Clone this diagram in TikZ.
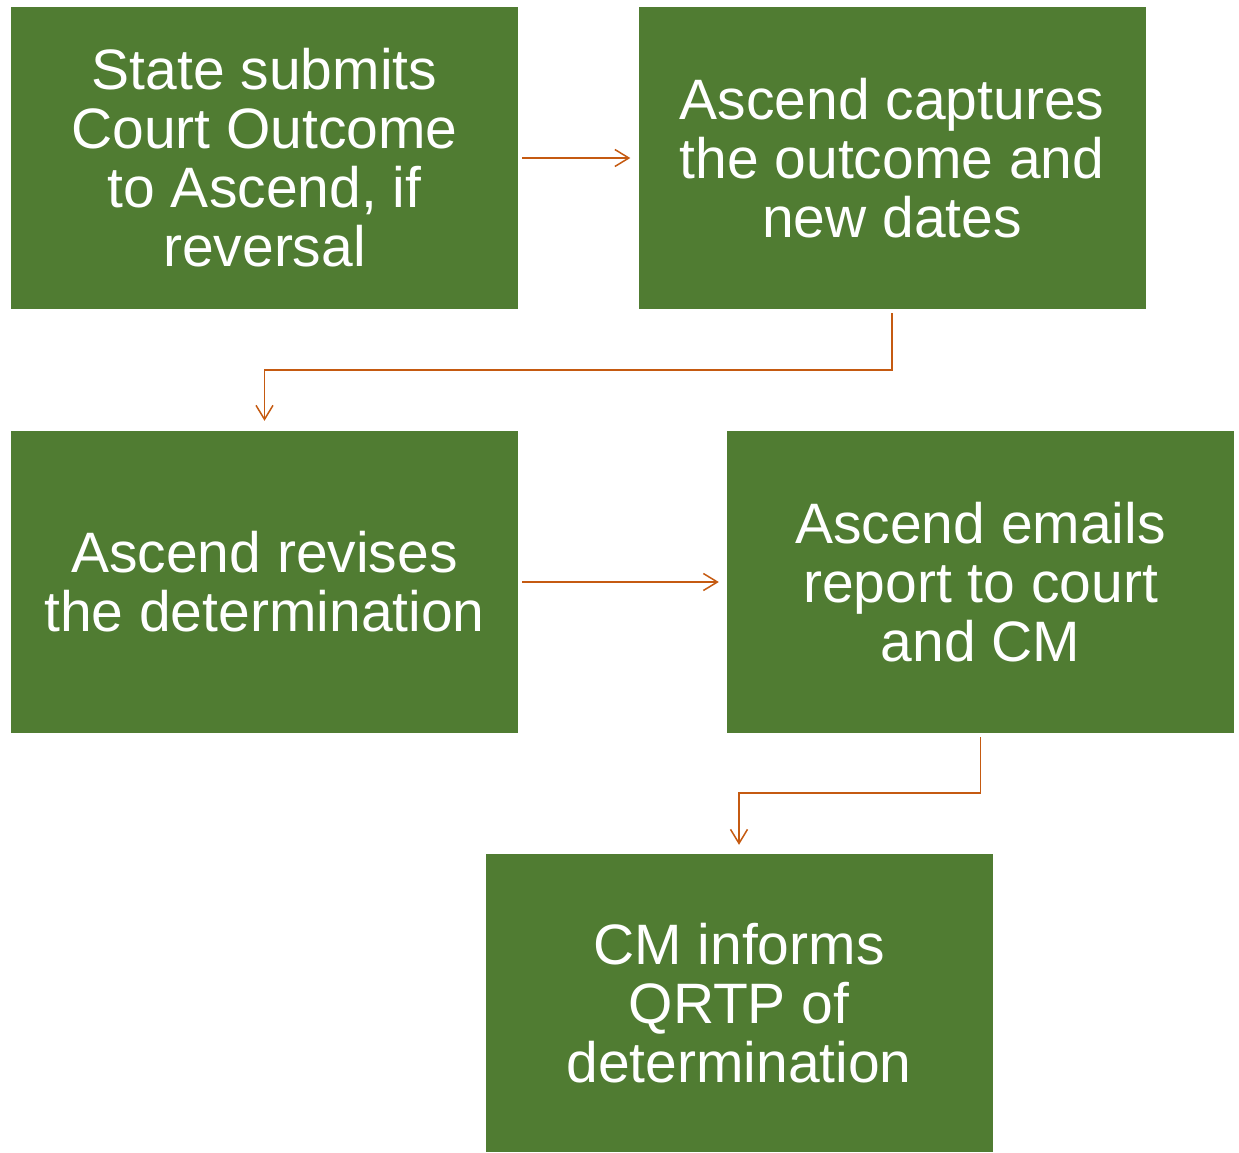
\documentclass[tikz,border=0pt]{standalone}
\usepackage{fontspec}
\setmainfont{Liberation Sans}
\usetikzlibrary{arrows.meta}
\definecolor{boxgreen}{RGB}{80,124,50}
\definecolor{arrorange}{RGB}{197,90,17}
\begin{document}
\begin{tikzpicture}[x=1pt,y=-1pt,
  stepbox/.style={fill=boxgreen, draw=none, text=white, align=center,
    minimum width=507pt, minimum height=302pt, inner sep=0pt,
    font=\fontsize{57pt}{59pt}\selectfont},
  arr/.style={draw=arrorange, line width=1.5pt,
    -{Straight Barb[length=14pt,width=17pt,line width=1.5pt]}}]
\useasboundingbox (0,0) rectangle (1239,1153);
\node[stepbox] (b1) at (264.5,158) {State submits\\Court Outcome\\to Ascend, if\\reversal};
\node[stepbox] (b2) at (892,158) {Ascend captures\\the outcome and\\new dates};
\node[stepbox] (b3) at (264.5,582) {Ascend revises\\the determination};
\node[stepbox] (b4) at (980.5,582) {Ascend emails\\report to court\\and CM};
\node[stepbox, minimum height=298pt] (b5) at (739,1003) {CM informs\\QRTP of\\determination};
\draw[arr, shorten <=4pt, shorten >=8pt] (b1.east) -- (b2.west);
\draw[arr, shorten <=4pt, shorten >=8pt] (b3.east) -- (b4.west);
\draw[arr, shorten <=4pt, shorten >=10pt] (b2.south) -- ++(0,61) -| (b3.north);
\draw[arr, shorten <=4pt, shorten >=9pt] (b4.south) -- ++(0,60) -| (b5.north);
\end{tikzpicture}
\end{document}
